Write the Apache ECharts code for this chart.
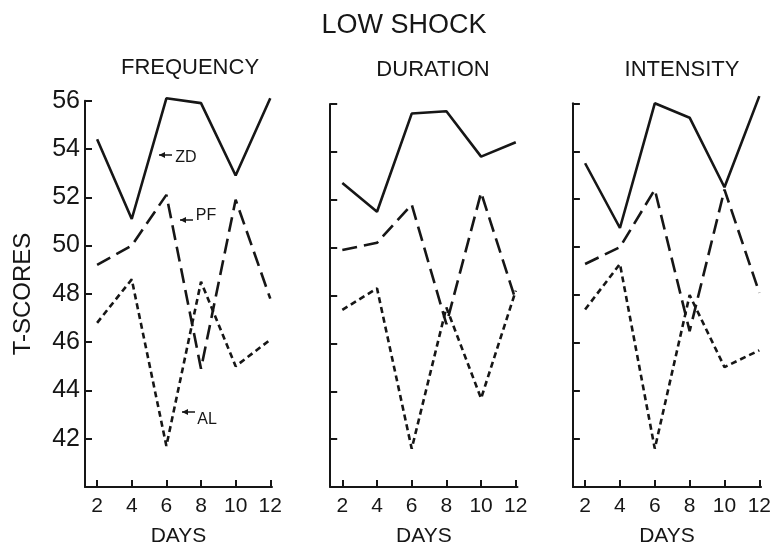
<!DOCTYPE html>
<html><head><meta charset="utf-8">
<script src="https://cdn.jsdelivr.net/npm/echarts@6/dist/echarts.min.js"></script>
<style>html,body{margin:0;padding:0;background:#fff}#c{width:774px;height:552px}</style>
</head><body><div id="c"></div>
<script>
const days = [2, 4, 6, 8, 10, 12];
const dayTicks = [2, 4, 6, 8, 10, 12];
const yTicks = [42, 44, 46, 48, 50, 52, 54, 56];
const panels = ['FREQUENCY', 'DURATION', 'INTENSITY'];
// Frequency
const freqZD = [54.4, 51.1, 56.1, 55.9, 52.9, 56.1];
const freqPF = [49.2, 50.0, 52.1, 44.9, 51.9, 47.8];
const freqAL = [46.8, 48.6, 41.7, 48.5, 45.0, 46.1];
// Duration
const durZD = [52.7, 51.5, 55.6, 55.7, 53.8, 54.4];
const durPF = [49.9, 50.2, 51.8, 46.8, 52.3, 47.8];
const durAL = [47.4, 48.3, 41.6, 47.5, 43.7, 48.2];
// Intensity
const intZD = [53.5, 50.8, 56.0, 55.4, 52.5, 56.3];
const intPF = [49.3, 50.0, 52.4, 46.5, 52.4, 48.1];
const intAL = [47.4, 49.3, 41.6, 48.0, 45.0, 45.7];

const groups = [[freqZD, freqPF, freqAL], [durZD, durPF, durAL], [intZD, intPF, intAL]];
const FONT = 'Liberation Sans';
const INK = '#161616';

const grids = [
  {left: 85, top: 100.7, width: 187, height: 390.3},
  {left: 330.2, top: 104, width: 187.3, height: 387},
  {left: 572.9, top: 103.3, width: 189.5, height: 387.7}
];

const xAxis = grids.map((g, i) => ({
  type: 'value', gridIndex: i, min: 1.3, max: 12.1,
  name: 'DAYS', nameLocation: 'middle', nameGap: 39,
  nameTextStyle: {fontFamily: FONT, fontSize: 21, color: INK},
  axisLine: {lineStyle: {color: INK, width: 2}},
  axisTick: {inside: true, length: 7, customValues: dayTicks, lineStyle: {color: INK, width: 2}},
  axisLabel: {customValues: dayTicks, fontFamily: FONT, fontSize: 21, color: INK, margin: 9},
  splitLine: {show: false}
}));

const yAxis = grids.map((g, i) => ({
  type: 'value', gridIndex: i, min: 40, max: 56,
  axisLine: {show: true, lineStyle: {color: INK, width: 2}},
  axisTick: {show: true, inside: true, length: 7, customValues: yTicks, lineStyle: {color: INK, width: 2}},
  axisLabel: {show: i === 0, customValues: yTicks, fontFamily: FONT, fontSize: 25, color: INK, margin: 5},
  splitLine: {show: false}
}));

const styles = [
  {type: 'solid'},
  {type: [15, 7]},
  {type: [6, 4]}
];

const series = [];
groups.forEach((grp, gi) => {
  grp.forEach((vals, si) => {
    series.push({
      type: 'line', xAxisIndex: gi, yAxisIndex: gi,
      data: days.map((d, k) => [d, vals[k]]),
      symbol: 'none', clip: false,
      lineStyle: Object.assign({color: INK, width: 2.6}, styles[si])
    });
  });
});

const txt = (x, y, text, size, extra) => Object.assign({
  type: 'text', x: x, y: y,
  style: {text: text, fontFamily: FONT, fontSize: size, fill: INK, align: 'center', verticalAlign: 'middle'}
}, extra || {});

const note = (x, y, label, rot) => ({
  type: 'group', x: x, y: y, rotation: rot || 0,
  children: [
    {type: 'line', shape: {x1: 0, y1: 0, x2: 13, y2: 0}, style: {stroke: INK, lineWidth: 1.5}},
    {type: 'polygon', shape: {points: [[0, 0], [6, -3], [6, 3]]}, style: {fill: INK}}
  ]
});

const option = {
  animation: false,
  backgroundColor: '#fff',
  grid: grids,
  xAxis: xAxis,
  yAxis: yAxis,
  series: series,
  graphic: [
    txt(404, 26, 'LOW SHOCK', 27),
    txt(190, 68, panels[0], 22),
    txt(433, 70, panels[1], 22),
    txt(682, 70, panels[2], 22),
    txt(23, 294, 'T-SCORES', 24, {rotation: Math.PI / 2}),
    note(159, 155),
    txt(186, 158, 'ZD', 16),
    note(180, 220, 0.35),
    txt(206, 216, 'PF', 16),
    note(182, 412, -0.45),
    txt(207, 420, 'AL', 16)
  ]
};

const chart = echarts.init(document.getElementById('c'), null, {renderer: 'canvas'});
chart.setOption(option);
</script>
</body></html>
